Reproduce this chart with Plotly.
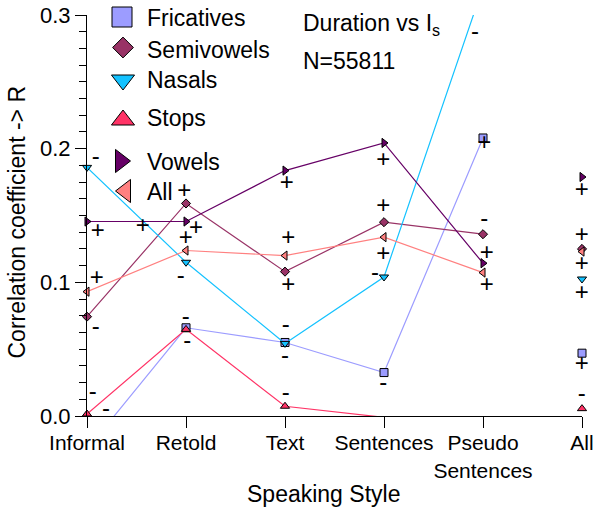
import plotly.graph_objects as go

# ---------------- data ----------------
categories = ["Informal", "Retold", "Text", "Sentences", "Pseudo<br>Sentences", "All"]
series_names = ["Fricatives", "Semivowels", "Nasals", "Stops", "Vowels", "All"]

fricatives = [-0.025, 0.066, 0.055, 0.0325, 0.208, 0.047]
semivowels = [0.0743, 0.159, 0.108, 0.145, 0.136, 0.125]
nasals = [0.186, 0.115, 0.0543, 0.104, 0.321, 0.1025]
stops = [0.0015, 0.0648, 0.0073, -0.001, -0.03, 0.0055]
vowels = [0.1455, 0.1455, 0.1836, 0.2043, 0.1143, 0.1788]
all_phonemes = [0.093, 0.1238, 0.120, 0.1338, 0.1073, 0.123]

# significance labels (x in category units, y in R units)
sign_x = [0.088, 0.108, 0.098, 0.088, 0.058, 0.192,
          0.563,
          0.983, 1.101, 0.997, 0.946, 0.997, 1.013,
          2.017, 2.033, 2.033, 2.007, 2.000, 2.007,
          2.993, 2.993, 2.993, 2.909, 2.993,
          3.919, 4.013, 4.013, 4.037, 4.037,
          4.997, 4.997, 4.997, 4.997, 4.997, 4.997]
sign_y = [0.1931, 0.1380, 0.1027, 0.0660, 0.0173, 0.0048,
          0.1413,
          0.1673, 0.1398, 0.1325, 0.1043, 0.0735, 0.0555,
          0.1738, 0.1325, 0.0973, 0.0670, 0.0443, 0.0168,
          0.1910, 0.1560, 0.1205, 0.1063, 0.0238,
          0.2863, 0.2033, 0.1468, 0.1210, 0.0975,
          0.1680, 0.1343, 0.1130, 0.0915, 0.0380, 0.0160]
sign_text = ["-", "+", "+", "-", "-", "-",
             "+",
             "+", "+", "+", "-", "-", "-",
             "+", "+", "+", "-", "-", "-",
             "+", "+", "+", "-", "-",
             "-", "+", "-", "+", "+",
             "+", "+", "+", "+", "+", "-"]

title_lines = ["Duration vs I<sub>s</sub>", "N=55811"]
x_title = "Speaking Style"
y_title = "Correlation coefficient -&gt; R"

# ---------------- styles ----------------
colors = ["#9c9cff", "#993366", "#14c2ff", "#ff3366", "#660066", "#ff8080"]
symbols = ["square", "diamond", "triangle-down", "triangle-up", "triangle-right", "triangle-left"]
plot_sizes = [8, 7, 8, 8, 8, 8]
legend_sizes = [20, 16, 20, 20, 20, 20]
FONT = "Liberation Sans, Arial, sans-serif"

W, H = 600, 509
ML, MR, MT, MB = 87, 18, 15, 93
PW, PH = W - ML - MR, H - MT - MB


def px2paper_x(px):
    return (px - ML) / PW


def px2paper_y(py):
    return (H - MB - py) / PH


series = [fricatives, semivowels, nasals, stops, vowels, all_phonemes]
xs = list(range(len(categories)))
YMIN, YMAX = 0.0, 0.3
MINOR_STEP = 0.0125
minor_vals = [i * MINOR_STEP for i in range(int(round((YMAX - YMIN) / MINOR_STEP)) + 1)]

fig = go.Figure()

for name, vals, col, sym, sz in zip(series_names, series, colors, symbols, plot_sizes):
    # connected line over the speaking styles (not the "All" column)
    fig.add_trace(go.Scatter(
        x=xs[:5], y=vals[:5], mode="lines",
        line=dict(color=col, width=1.2), showlegend=False, hoverinfo="skip"))
    # markers that lie inside the axis range
    mx = [x for x, v in zip(xs, vals) if YMIN - 1e-9 <= v <= YMAX]
    my = [v for v in vals if YMIN - 1e-9 <= v <= YMAX]
    fig.add_trace(go.Scatter(
        x=mx, y=my, mode="markers", cliponaxis=False, name=name,
        marker=dict(symbol=sym, size=sz, color=col, line=dict(color="black", width=1)),
        showlegend=False))

fig.add_trace(go.Scatter(
    x=sign_x, y=sign_y, mode="text", text=sign_text, textposition="middle center",
    textfont=dict(family=FONT, size=24, color="black"), cliponaxis=False,
    showlegend=False, hoverinfo="skip"))

# ---------------- custom legend (pixel overlay axes) ----------------
leg_marker_x = [122, 123, 123, 123, 120.5, 125.5]
leg_marker_y = [17, 47.5, 80, 120, 161, 191]
leg_text_y = [18.3, 49.5, 79.5, 118, 162, 191.7]
for i, (name, col, sym, sz) in enumerate(zip(series_names, colors, symbols, legend_sizes)):
    fig.add_trace(go.Scatter(
        x=[leg_marker_x[i]], y=[leg_marker_y[i]], xaxis="x2", yaxis="y2",
        mode="markers", cliponaxis=False, showlegend=False, hoverinfo="skip",
        marker=dict(symbol=sym, size=sz, color=col, line=dict(color="black", width=1))))

big = dict(family=FONT, size=23, color="black")
annotations = []
for name, ty in zip(series_names, leg_text_y):
    annotations.append(dict(x=px2paper_x(145), y=px2paper_y(ty), xref="paper", yref="paper",
                            text=name, showarrow=False, xanchor="left", yanchor="middle", font=big))
annotations.append(dict(x=px2paper_x(300.5), y=px2paper_y(24), xref="paper", yref="paper",
                        text=title_lines[0], showarrow=False, xanchor="left", yanchor="middle", font=big))
annotations.append(dict(x=px2paper_x(300.5), y=px2paper_y(61), xref="paper", yref="paper",
                        text=title_lines[1], showarrow=False, xanchor="left", yanchor="middle", font=big))
annotations.append(dict(x=px2paper_x(323.5), y=px2paper_y(494), xref="paper", yref="paper",
                        text=x_title, showarrow=False, xanchor="center", yanchor="middle", font=big))
annotations.append(dict(x=px2paper_x(16.5), y=px2paper_y(222), xref="paper", yref="paper",
                        text=y_title, showarrow=False, textangle=-90,
                        xanchor="center", yanchor="middle", font=big))

fig.update_layout(
    width=W, height=H,
    margin=dict(l=ML, r=MR, t=MT, b=MB, autoexpand=False),
    paper_bgcolor="white", plot_bgcolor="white",
    font=dict(family=FONT, size=21, color="black"),
    showlegend=False,
    annotations=annotations,
    xaxis=dict(range=[0, 5], tickmode="array", tickvals=xs, ticktext=categories,
               tickangle=0, automargin=False, ticklabelstandoff=-3,
               showline=True, linecolor="black", linewidth=1, ticks="outside",
               ticklen=11, tickwidth=1, tickcolor="black", showgrid=False, zeroline=False,
               tickfont=dict(family=FONT, size=21, color="black")),
    yaxis=dict(range=[YMIN, YMAX], tick0=0, dtick=0.1, tickformat=".1f", automargin=False,
               showline=True, linecolor="black", linewidth=1, ticks="outside",
               ticklen=11, tickwidth=1, tickcolor="black", showgrid=False, zeroline=False,
               tickfont=dict(family=FONT, size=22, color="black")),
    # minor ticks of the value axis
    yaxis3=dict(overlaying="y", range=[YMIN, YMAX], tickmode="array", tickvals=minor_vals,
                showticklabels=False, ticks="outside", ticklen=7, tickwidth=1, tickcolor="black",
                showline=False, showgrid=False, zeroline=False, automargin=False),
    xaxis2=dict(overlaying="x", range=[ML, W - MR], visible=False),
    yaxis2=dict(overlaying="y", range=[H - MB, MT], visible=False),
)

# empty trace so the minor-tick axis is drawn
fig.add_trace(go.Scatter(x=[None], y=[None], yaxis="y3", mode="markers",
                         showlegend=False, hoverinfo="skip"))

fig.write_html("out.html", config={"displayModeBar": False},
               post_script="document.body.style.margin='0px';")
